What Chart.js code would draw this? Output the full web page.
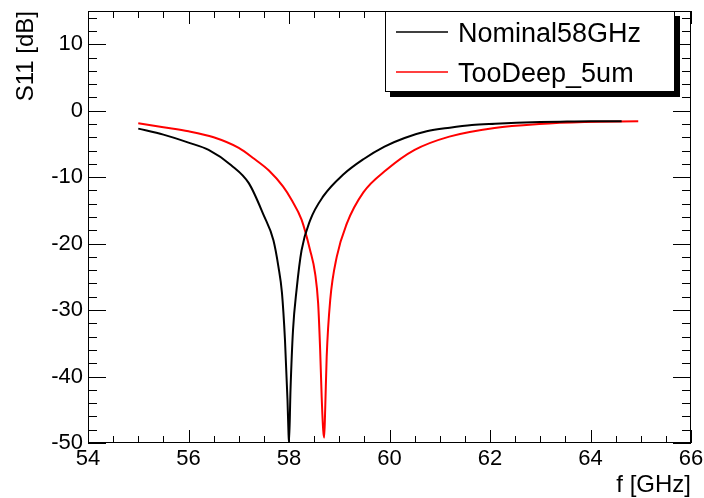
<!DOCTYPE html>
<html>
<head>
<meta charset="utf-8">
<script src="https://cdn.jsdelivr.net/npm/chart.js@4.4.1/dist/chart.umd.min.js"></script>
<style>
  body { margin: 0; background: #fff; }
  canvas { display: block; }
</style>
</head>
<body>
<canvas id="s11Chart" width="704" height="498"></canvas>
<script>
// Nominal58GHz (black)
const nominalFreq = [55.0, 55.5, 56.0, 56.4, 56.85, 57.2, 57.5, 57.69, 57.79, 57.86,
    57.92, 57.97, 57.99, 58.0, 58.03, 58.08, 58.15, 58.25, 58.42, 58.68,
    59.08, 59.48, 59.9, 60.3, 60.74, 61.2, 61.64, 62.1, 62.53, 63.0,
    63.4, 64.0, 64.62];
const nominalS11 = [-2.7, -3.6, -4.8, -5.9, -8.2, -10.9, -15.8, -19.5, -23.5, -27.4,
    -34.5, -43.5, -48.5, -50, -42, -33, -27.0, -21.0, -16.5, -12.9,
    -9.6, -7.3, -5.4, -4.1, -3.1, -2.55, -2.15, -1.95, -1.8, -1.7,
    -1.65, -1.6, -1.6];

// TooDeep_5um (red)
const deepFreq = [55.0, 55.5, 56.0, 56.5, 57.0, 57.3, 57.6, 57.88, 58.05, 58.25,
    58.42, 58.52, 58.58, 58.62, 58.65, 58.68, 58.70, 58.72, 58.75, 58.82,
    58.95, 59.15, 59.48, 59.94, 60.5, 61.19, 62.09, 62.98, 63.88, 64.95];
const deepS11 = [-1.9, -2.5, -3.1, -4.0, -5.6, -7.2, -9.0, -11.4, -13.4, -16.4,
    -21.0, -24.5, -29.0, -36.0, -43.0, -48.0, -49.2, -45, -37, -28.5,
    -22.0, -17.0, -12.3, -8.9, -5.9, -3.9, -2.6, -2.0, -1.7, -1.6];

const seriesNames = ['Nominal58GHz', 'TooDeep_5um'];
const xTicks = [54, 56, 58, 60, 62, 64, 66];
const yTicks = [-50, -40, -30, -20, -10, 0, 10];

const FONT = 'Liberation Sans, Arial, Helvetica, sans-serif';

function toPoints(xs, ys) {
    return xs.map((x, i) => ({ x: x, y: ys[i] }));
}

// frame and inward ticks on all four sides (ROOT look)
const frameTicks = {
    id: 'frameTicks',
    afterDatasetsDraw(chart) {
        const { ctx, chartArea: a, scales: { x, y } } = chart;
        ctx.save();
        ctx.strokeStyle = '#000';
        ctx.lineWidth = 1;
        ctx.beginPath();
        for (let v = 54; v <= 66.001; v += 0.5) {
            const px = Math.round(x.getPixelForValue(v)) + 0.5;
            const len = Math.abs(v % 2) < 0.001 ? 13 : 7;
            ctx.moveTo(px, a.bottom); ctx.lineTo(px, a.bottom - len);
            ctx.moveTo(px, a.top); ctx.lineTo(px, a.top + len);
        }
        for (let v = -50; v <= 15.001; v += 2) {
            const py = Math.round(y.getPixelForValue(v)) + 0.5;
            const len = Math.abs(v % 10) < 0.001 ? 18 : 9;
            ctx.moveTo(a.left, py); ctx.lineTo(a.left + len, py);
            ctx.moveTo(a.right, py); ctx.lineTo(a.right - len, py);
        }
        ctx.stroke();
        ctx.strokeRect(a.left + 0.5, a.top + 0.5, a.right - a.left - 1, a.bottom - a.top - 1);
        ctx.restore();
    }
};

// legend box with shadow, hung from the top-right of the frame
const legendBox = {
    id: 'legendBox',
    afterDraw(chart) {
        const { ctx, chartArea: a } = chart;
        const bw = 290, bh = 81;
        const bx = a.right - 16 - bw, by = a.top;
        ctx.save();
        ctx.fillStyle = '#000';
        ctx.fillRect(bx + 5, by + 5, bw, bh);
        ctx.fillStyle = '#fff';
        ctx.fillRect(bx, by, bw, bh);
        ctx.strokeStyle = '#000';
        ctx.lineWidth = 1;
        ctx.strokeRect(bx + 0.5, by + 0.5, bw - 1, bh - 1);
        ctx.font = '27px ' + FONT;
        ctx.textBaseline = 'alphabetic';
        ctx.textAlign = 'left';
        const rows = [by + 21, by + 61];
        chart.data.datasets.forEach((ds, i) => {
            ctx.strokeStyle = ds.borderColor;
            ctx.lineWidth = 1.5;
            ctx.beginPath();
            ctx.moveTo(bx + 11, rows[i]);
            ctx.lineTo(bx + 63, rows[i]);
            ctx.stroke();
            ctx.fillStyle = '#000';
            ctx.fillText(ds.label, bx + 73, rows[i] + 10);
        });
        ctx.restore();
    }
};

const ctx = document.getElementById('s11Chart').getContext('2d');
new Chart(ctx, {
    type: 'line',
    data: {
        datasets: [
            {
                label: seriesNames[0],
                data: toPoints(nominalFreq, nominalS11),
                borderColor: '#000000',
                borderWidth: 2,
                pointRadius: 0,
                cubicInterpolationMode: 'monotone'
            },
            {
                label: seriesNames[1],
                data: toPoints(deepFreq, deepS11),
                borderColor: '#ff0000',
                borderWidth: 2,
                pointRadius: 0,
                cubicInterpolationMode: 'monotone'
            }
        ]
    },
    options: {
        responsive: false,
        animation: false,
        layout: { padding: { top: 11, right: 13, left: 0, bottom: 0 } },
        plugins: {
            legend: { display: false },
            tooltip: { enabled: false }
        },
        scales: {
            x: {
                type: 'linear',
                min: 54,
                max: 66,
                afterFit(s) { s.height = 55; s.paddingLeft = 0; s.paddingRight = 0; },
                afterBuildTicks(s) { s.ticks = xTicks.map(v => ({ value: v })); },
                grid: { display: false, drawTicks: false },
                border: { display: false },
                ticks: {
                    color: '#000',
                    font: { family: FONT, size: 22 },
                    padding: 3,
                    maxRotation: 0,
                    autoSkip: false
                },
                title: {
                    display: true,
                    text: 'f [GHz]',
                    align: 'end',
                    color: '#000',
                    font: { family: FONT, size: 24, lineHeight: 1 },
                    padding: { top: 0, bottom: 1 }
                }
            },
            y: {
                type: 'linear',
                min: -50,
                max: 15,
                afterFit(s) { s.width = 88; s.paddingTop = 0; s.paddingBottom = 0; },
                afterBuildTicks(s) { s.ticks = yTicks.map(v => ({ value: v })); },
                grid: { display: false, drawTicks: false },
                border: { display: false },
                ticks: {
                    color: '#000',
                    font: { family: FONT, size: 22 },
                    padding: 5,
                    autoSkip: false
                },
                title: {
                    display: true,
                    text: 'S11 [dB]',
                    align: 'end',
                    color: '#000',
                    font: { family: FONT, size: 24, lineHeight: 1.2 },
                    padding: { top: 12, bottom: 0 }
                }
            }
        }
    },
    plugins: [frameTicks, legendBox]
});
</script>
</body>
</html>
